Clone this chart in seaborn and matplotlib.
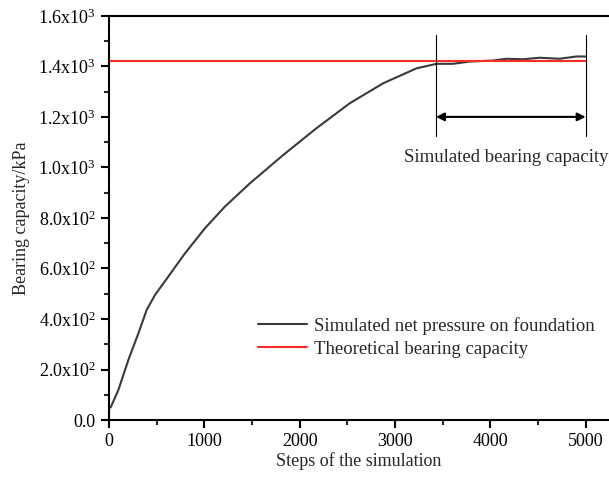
import numpy as np
import pandas as pd
import matplotlib
matplotlib.use("Agg")
import matplotlib.pyplot as plt
import seaborn as sns
from matplotlib.ticker import MultipleLocator

steps = [0, 21, 98, 203, 308, 395, 482, 622, 797, 1006, 1216, 1478, 1827, 2176,
         2526, 2876, 3225, 3435, 3610, 3784, 4028, 4168, 4343, 4518, 4727, 4902, 5000]
pressure = [45, 53, 119, 238, 343, 436, 495, 568, 660, 759, 845, 937, 1049, 1155,
            1254, 1333, 1392, 1410, 1410, 1419, 1423, 1430, 1428, 1434, 1430, 1439, 1439]
theory_x = [0, 5000]
theory_y = [1423, 1423]
yticks = [0, 200, 400, 600, 800, 1000, 1200, 1400, 1600]
ytick_labels = ["0.0", r"2.0x10$^{2}$", r"4.0x10$^{2}$", r"6.0x10$^{2}$", r"8.0x10$^{2}$",
                r"1.0x10$^{3}$", r"1.2x10$^{3}$", r"1.4x10$^{3}$", r"1.6x10$^{3}$"]
xticks = [0, 1000, 2000, 3000, 4000, 5000]

sns.set_style("ticks")
plt.rcParams["font.family"] = ["Liberation Serif", "DejaVu Serif"]
plt.rcParams["mathtext.fontset"] = "custom"
plt.rcParams["mathtext.rm"] = "Liberation Serif"
plt.rcParams["mathtext.it"] = "Liberation Serif"

fig = plt.figure(figsize=(6.09, 4.79), dpi=100)
ax = fig.add_axes([0.179, 0.123, 0.821, 0.844])

df = pd.DataFrame({"x": steps, "y": pressure})
sns.lineplot(data=df, x="x", y="y", ax=ax, color="#3a3a3a", linewidth=1.5,
             label="Simulated net pressure on foundation")
dft = pd.DataFrame({"x": theory_x, "y": theory_y})
sns.lineplot(data=dft, x="x", y="y", ax=ax, color="#ff2a2a", linewidth=1.5,
             label="Theoretical bearing capacity")

ax.set_xlim(0, 5245)
ax.set_ylim(0, 1600)
ax.set_yticks(yticks)
ax.set_yticklabels(ytick_labels)
ax.set_xticks(xticks)
ax.xaxis.set_minor_locator(MultipleLocator(500))
ax.yaxis.set_minor_locator(MultipleLocator(100))
ax.tick_params(axis="both", which="major", direction="out", length=6, width=1.5,
               labelsize=13, colors="black")
ax.tick_params(axis="both", which="minor", direction="out", length=3.5, width=1.5)
for s in ["left", "bottom", "top"]:
    ax.spines[s].set_linewidth(1.5)
    ax.spines[s].set_color("black")
ax.spines["right"].set_visible(False)

ax.set_xlabel("Steps of the simulation", fontsize=13, labelpad=1)
ax.set_ylabel("Bearing capacity/kPa", fontsize=13, labelpad=6)

# bracket for simulated bearing capacity
ax.plot([3430, 3430], [1125, 1525], color="black", linewidth=0.8)
ax.plot([5000, 5000], [1125, 1525], color="black", linewidth=0.8)
ax.annotate("", xy=(3430, 1200), xytext=(5000, 1200),
            arrowprops=dict(arrowstyle="<|-|>", color="black", lw=1.5,
                            shrinkA=0, shrinkB=0, mutation_scale=12))
ax.text(4170, 1040, "Simulated bearing capacity", fontsize=13.5, ha="center", va="center")

leg = ax.legend(loc="center left", bbox_to_anchor=(0.265, 0.205), frameon=False,
                fontsize=13.5, handlelength=2.6, handletextpad=0.35, labelspacing=0.3)

fig.savefig("out.png", dpi=100)
